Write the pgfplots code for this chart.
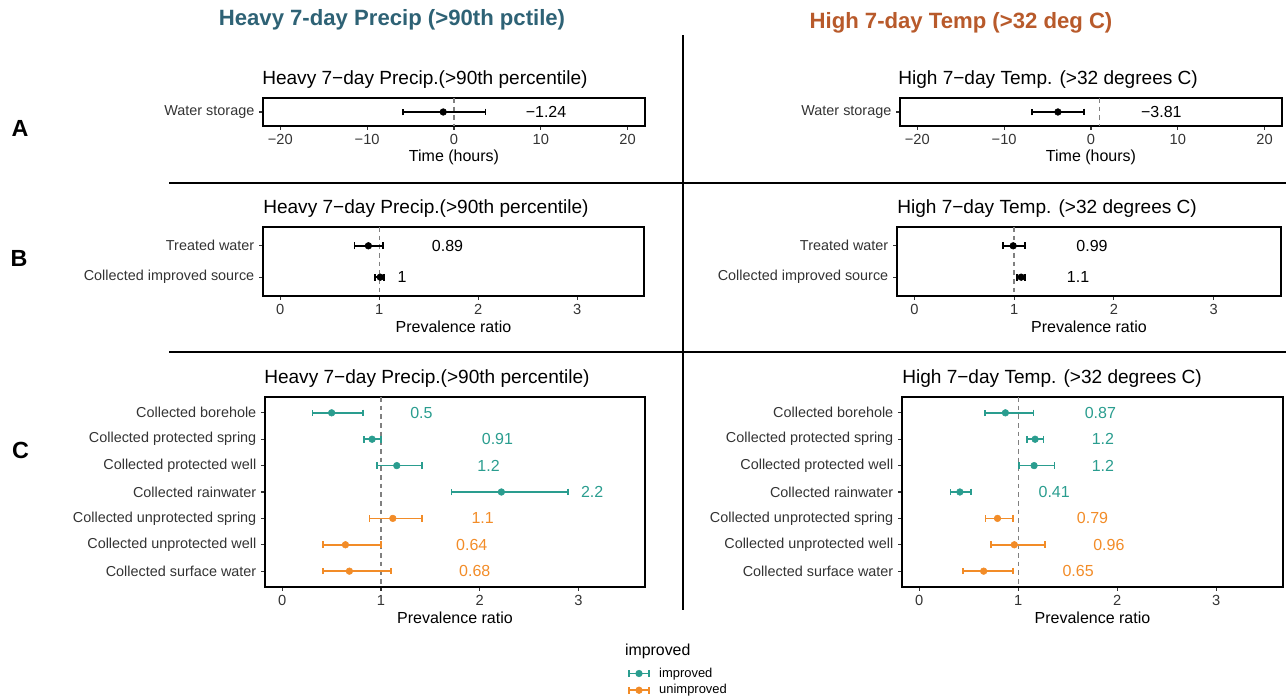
\documentclass[border=0pt]{standalone}
\usepackage{fontspec}
\setmainfont{Liberation Sans}
\usepackage{pgfplots}
\usepackage{pgfplotstable}
\pgfplotsset{compat=1.18}

\definecolor{impC}{HTML}{2A9D8F}
\definecolor{unimpC}{HTML}{F28C28}
\definecolor{ttlL}{HTML}{2E6275}
\definecolor{ttlR}{HTML}{B85A2B}
\definecolor{axgray}{HTML}{333333}
\definecolor{refgray}{HTML}{808080}

% estimate, lower and upper confidence limits by row
\pgfplotstableread{
row est lo hi
1 -1.24 -5.87 3.64
}\Aleft
\pgfplotstableread{
row est lo hi
1 -3.81 -6.77 -0.79
}\Aright
\pgfplotstableread{
row est lo hi
1 0.89 0.75 1.04
2 1.01 0.96 1.05
}\Bleft
\pgfplotstableread{
row est lo hi
1 0.99 0.89 1.11
2 1.07 1.03 1.11
}\Bright
\pgfplotstableread{
row est lo hi
1 0.50 0.306 0.817
2 0.91 0.826 1.000
3 1.16 0.957 1.417
4 2.22 1.715 2.894
}\CleftImp
\pgfplotstableread{
row est lo hi
5 1.12 0.885 1.417
6 0.64 0.413 1.000
7 0.68 0.413 1.102
}\CleftUnimp
\pgfplotstableread{
row est lo hi
1 0.87 0.661 1.153
2 1.17 1.089 1.254
3 1.16 1.008 1.367
4 0.41 0.315 0.520
}\CrightImp
\pgfplotstableread{
row est lo hi
5 0.79 0.669 0.944
6 0.96 0.722 1.270
7 0.65 0.444 0.944
}\CrightUnimp

\newcommand\legkey[1]{%
  \draw[#1, line width=1.3pt] (0pt,0pt) -- (15pt,0pt);
  \draw[#1, line width=1.3pt] (0pt,-2.5pt) -- (0pt,2.5pt) (15pt,-2.5pt) -- (15pt,2.5pt);
  \fill[#1] (7.5pt,0pt) circle (2.5pt);}

\tikzset{vallab/.style={font=\fontsize{12}{13}\selectfont}}

\pgfplotsset{
  forest/.style={
    scale only axis,
    anchor=south west,
    y dir=reverse,
    ymin=0.4,
    clip=false,
    axis line style={black, line width=1pt},
    tick align=outside,
    xtick pos=left, ytick pos=left,
    major tick length=3pt,
    tick style={axgray, line width=0.8pt},
    /pgf/number format/assume math mode=true,
    xticklabel style={font=\fontsize{11}{12}\selectfont, text=axgray},
    yticklabel style={font=\fontsize{10.8}{12}\selectfont, text=axgray},
    xlabel style={at={(axis description cs:0.5,0)}, anchor=center, yshift=-23.25pt,
      font=\fontsize{12}{13}\selectfont},
  },
  pr/.style={xmin=-0.175, xmax=3.675, xtick={0,1,2,3}, xlabel={Prevalence ratio}},
  hrs/.style={xmin=-22, xmax=22, xtick={-20,-10,0,10,20},
    xticklabels={−20,−10,0,10,20}, xlabel={Time (hours)}},
  ci/.style={
    only marks, mark=*, mark size=2.5pt, color=#1, mark options={fill=#1, draw=#1},
    error bars/.cd, x dir=both, x explicit, error mark=|,
    error bar style={line width=1.3pt, #1},
    error mark options={line width=1.3pt, #1, mark size=2.5pt},
    /pgfplots/.cd,
  },
  refline/.style={refgray, line width=1.1pt, dash pattern=on 3.5pt off 3pt, forget plot},
}

\begin{document}
\begin{tikzpicture}

% frame lines between panels
\draw[line width=1.8pt] (512.25pt,66pt) -- (512.25pt,497.25pt);
\draw[line width=1.8pt] (126.75pt,386.25pt) -- (964.5pt,386.25pt);
\draw[line width=1.8pt] (126.75pt,259.5pt) -- (964.5pt,259.5pt);

% column headings
\node[font=\fontsize{16.6}{18}\selectfont\bfseries, text=ttlL] at (294pt,508.5pt) {Heavy 7-day Precip (>90th pctile)};
\node[font=\fontsize{16.6}{18}\selectfont\bfseries, text=ttlR] at (720.75pt,506.25pt) {High 7-day Temp (>32 deg C)};

% row letters
\node[font=\fontsize{17.5}{20}\selectfont\bfseries] at (15pt,427.5pt) {A};
\node[font=\fontsize{17.5}{20}\selectfont\bfseries] at (14.25pt,330pt) {B};
\node[font=\fontsize{17.5}{20}\selectfont\bfseries] at (15.4pt,186pt) {C};

% panel titles
\begin{scope}[every node/.style={anchor=west, inner sep=0pt, font=\fontsize{14.3}{16}\selectfont}]
\node at (196.5pt,463.5pt) {Heavy 7−day Precip.(>90th percentile)};
\node at (673.5pt,463.5pt) {High 7−day Temp. (>32 degrees C)};
\node at (197.25pt,366.75pt) {Heavy 7−day Precip.(>90th percentile)};
\node at (672.75pt,366.75pt) {High 7−day Temp. (>32 degrees C)};
\node at (198pt,239.25pt) {Heavy 7−day Precip.(>90th percentile)};
\node at (676.5pt,239.25pt) {High 7−day Temp. (>32 degrees C)};
\end{scope}

% ---------- A: water storage time ----------
\begin{axis}[forest, hrs, at={(197.25pt,429pt)}, width=286.5pt, height=21pt,
  ymax=1.6, ytick={1}, yticklabels={Water storage}]
\addplot[refline] coordinates {(0,0.4) (0,1.6)};
\addplot[ci=black] table[x=est, y=row,
  x error plus expr=\thisrow{hi}-\thisrow{est},
  x error minus expr=\thisrow{est}-\thisrow{lo}] {\Aleft};
\node[vallab] at (axis cs:10.6,1) {−1.24};
\end{axis}

\begin{axis}[forest, hrs, at={(675pt,429pt)}, width=286.5pt, height=21pt,
  ymax=1.6, ytick={1}, yticklabels={Water storage}]
\addplot[refline] coordinates {(1,0.4) (1,1.6)};
\addplot[ci=black] table[x=est, y=row,
  x error plus expr=\thisrow{hi}-\thisrow{est},
  x error minus expr=\thisrow{est}-\thisrow{lo}] {\Aright};
\node[vallab] at (axis cs:8.1,1) {−3.81};
\end{axis}

% ---------- B: treatment and improved source ----------
\begin{axis}[forest, pr, at={(197.25pt,301.5pt)}, width=285.75pt, height=51.75pt,
  ymax=2.6, ytick={1,2}, yticklabels={Treated water, Collected improved source}]
\addplot[refline] coordinates {(1,0.4) (1,2.6)};
\addplot[ci=black] table[x=est, y=row,
  x error plus expr=\thisrow{hi}-\thisrow{est},
  x error minus expr=\thisrow{est}-\thisrow{lo}] {\Bleft};
\node[vallab] at (axis cs:1.69,1) {0.89};
\node[vallab] at (axis cs:1.23,2) {1};
\end{axis}

\begin{axis}[forest, pr, at={(672.75pt,301.5pt)}, width=288pt, height=51.75pt,
  ymax=2.6, ytick={1,2}, yticklabels={Treated water, Collected improved source}]
\addplot[refline] coordinates {(1,0.4) (1,2.6)};
\addplot[ci=black] table[x=est, y=row,
  x error plus expr=\thisrow{hi}-\thisrow{est},
  x error minus expr=\thisrow{est}-\thisrow{lo}] {\Bright};
\node[vallab] at (axis cs:1.78,1) {0.99};
\node[vallab] at (axis cs:1.64,2) {1.1};
\end{axis}

% ---------- C: source of collected water ----------
\begin{axis}[forest, pr, at={(198.75pt,83.25pt)}, width=285pt, height=142.5pt,
  ymax=7.6, ytick={1,...,7},
  yticklabels={Collected borehole, Collected protected spring, Collected protected well,
    Collected rainwater, Collected unprotected spring, Collected unprotected well,
    Collected surface water},
  legend style={at={(axis description cs:0.955,-0.41)}, anchor=north west,
    draw=none, fill=none, inner sep=0pt, row sep=0pt,
    font=\fontsize{9.7}{11}\selectfont, cells={anchor=west},
    /tikz/every odd column/.append style={column sep=5pt}},
  legend cell align=left]
\addplot[refline] coordinates {(1,0.4) (1,7.6)};
\addplot[legend image code/.code={\legkey{impC}}, ci=impC] table[x=est, y=row,
  x error plus expr=\thisrow{hi}-\thisrow{est},
  x error minus expr=\thisrow{est}-\thisrow{lo}] {\CleftImp};
\addlegendentry{improved}
\addplot[legend image code/.code={\legkey{unimpC}}, ci=unimpC] table[x=est, y=row,
  x error plus expr=\thisrow{hi}-\thisrow{est},
  x error minus expr=\thisrow{est}-\thisrow{lo}] {\CleftUnimp};
\addlegendentry{unimproved}
\begin{scope}[every node/.style={vallab}]
\node[text=impC] at (axis cs:1.41,1) {0.5};
\node[text=impC] at (axis cs:2.18,2) {0.91};
\node[text=impC] at (axis cs:2.09,3) {1.2};
\node[text=impC] at (axis cs:3.14,4) {2.2};
\node[text=unimpC] at (axis cs:2.03,5) {1.1};
\node[text=unimpC] at (axis cs:1.92,6) {0.64};
\node[text=unimpC] at (axis cs:1.95,7) {0.68};
\end{scope}
\node[anchor=west, inner sep=0pt, font=\fontsize{11.9}{13}\selectfont]
  at (axis description cs:0.947,-0.337) {improved};
\end{axis}

\begin{axis}[forest, pr, at={(676.5pt,83.25pt)}, width=285.75pt, height=142.5pt,
  ymax=7.6, ytick={1,...,7},
  yticklabels={Collected borehole, Collected protected spring, Collected protected well,
    Collected rainwater, Collected unprotected spring, Collected unprotected well,
    Collected surface water}]
\addplot[refline] coordinates {(1,0.4) (1,7.6)};
\addplot[ci=impC] table[x=est, y=row,
  x error plus expr=\thisrow{hi}-\thisrow{est},
  x error minus expr=\thisrow{est}-\thisrow{lo}] {\CrightImp};
\addplot[ci=unimpC] table[x=est, y=row,
  x error plus expr=\thisrow{hi}-\thisrow{est},
  x error minus expr=\thisrow{est}-\thisrow{lo}] {\CrightUnimp};
\begin{scope}[every node/.style={vallab}]
\node[text=impC] at (axis cs:1.83,1) {0.87};
\node[text=impC] at (axis cs:1.855,2) {1.2};
\node[text=impC] at (axis cs:1.855,3) {1.2};
\node[text=impC] at (axis cs:1.363,4) {0.41};
\node[text=unimpC] at (axis cs:1.75,5) {0.79};
\node[text=unimpC] at (axis cs:1.915,6) {0.96};
\node[text=unimpC] at (axis cs:1.605,7) {0.65};
\end{scope}
\end{axis}

\pgfresetboundingbox
\path[use as bounding box] (0pt,0pt) rectangle (964.5pt,523.5pt);
\end{tikzpicture}
\end{document}
